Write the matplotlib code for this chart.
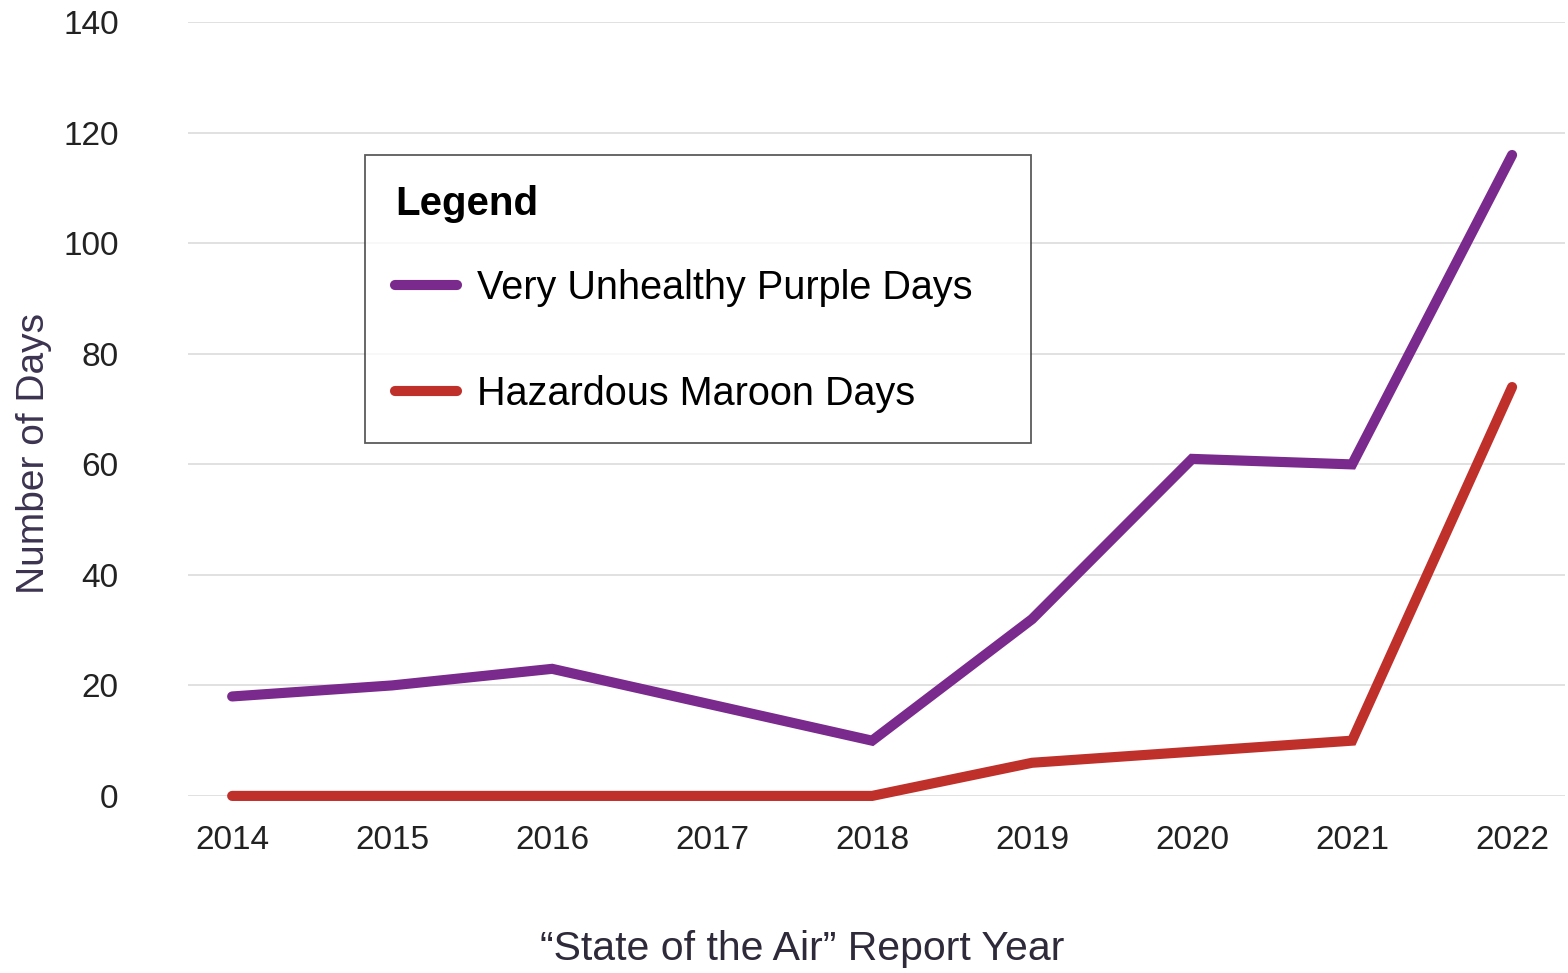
import matplotlib
matplotlib.use("Agg")
import matplotlib.pyplot as plt
from matplotlib import font_manager

# data
years = [2014, 2015, 2016, 2017, 2018, 2019, 2020, 2021, 2022]
purple_days = [18, 20, 23, 16.5, 10, 32, 61, 60, 116]
maroon_days = [0, 0, 0, 0, 0, 6, 8, 10, 74]
yticks = [0, 20, 40, 60, 80, 100, 120, 140]

names = {f.name for f in font_manager.fontManager.ttflist}
fam = 'Liberation Sans Narrow' if 'Liberation Sans Narrow' in names else 'Liberation Sans'
plt.rcParams['font.family'] = [fam, 'DejaVu Sans']

fig = plt.figure(figsize=(15.68, 9.73), dpi=100)
ax = fig.add_axes([0.12, 0.182, 0.878, 0.795])

ax.plot(years, purple_days, color='#7a2a8c', lw=7.3, solid_capstyle='round',
        solid_joinstyle='miter', label='Very Unhealthy Purple Days', clip_on=False, zorder=3)
ax.plot(years, maroon_days, color='#c0302b', lw=7.3, solid_capstyle='round',
        solid_joinstyle='miter', label='Hazardous Maroon Days', clip_on=False, zorder=3)

ax.set_xlim(2013.725, 2022.33)
ax.set_ylim(0, 140)
ax.set_yticks(yticks)
ax.set_xticks(years)
ax.yaxis.grid(True, color='#dcdcdc', lw=1.2)
ax.set_axisbelow(True)
for s in ax.spines.values():
    s.set_visible(False)
ax.tick_params(length=0, labelsize=24, colors='#222222')
ax.tick_params(axis='x', pad=21)
ax.tick_params(axis='y', pad=50)

ax.set_ylabel('Number of Days', fontsize=28, color='#3b3350')
ax.yaxis.set_label_coords(-0.099, 0.443)
ax.set_xlabel('\u201cState of the Air\u201d Report Year', fontsize=29.5, color='#2f2a3a')
ax.xaxis.set_label_coords(0.446, -0.173)

leg = ax.legend(loc='upper left', bbox_to_anchor=(0.1285, 0.457, 0.4837, 0.371),
                mode='expand', fontsize=28.5, title='Legend', frameon=True, fancybox=False,
                borderpad=0.75, labelspacing=1.72, handlelength=1.57, handletextpad=0.5,
                borderaxespad=0)
leg.get_title().set_fontsize(29)
leg.get_title().set_fontweight('bold')
leg._legend_box.align = 'left'
leg._legend_box.sep = 33
frame = leg.get_frame()
frame.set_edgecolor('#333333')
frame.set_linewidth(1.3)

fig.savefig('out.png', dpi=100, facecolor='white')
